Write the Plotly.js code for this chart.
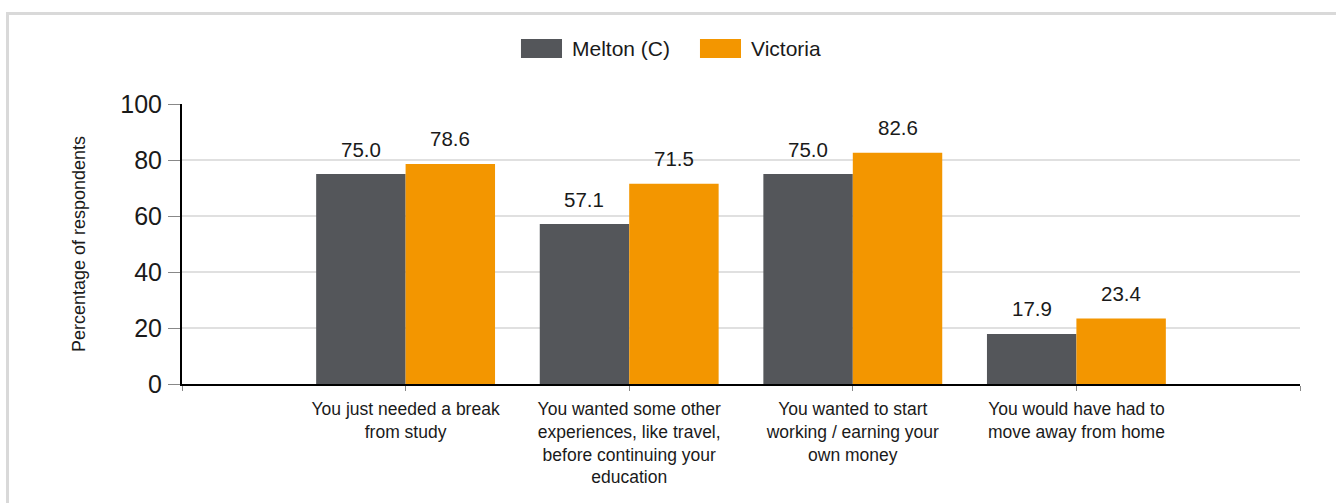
<!DOCTYPE html>
<html>
<head>
<meta charset="utf-8">
<script src="https://cdn.plot.ly/plotly-3.0.1.min.js"></script>
<style>
  html, body { margin: 0; padding: 0; width: 1336px; height: 503px; overflow: hidden; background: #fff; }
  #frame { position: absolute; left: 6px; top: 12px; width: 1400px; height: 600px; border: 3px solid #d9d9d9; box-sizing: border-box; }
  #chart { position: absolute; left: 0; top: 0; width: 1336px; height: 503px; }
</style>
</head>
<body>
<div id="frame"></div>
<div id="chart"></div>
<script>
// ---- data ----
const categories = [
  "You just needed a break<br>from study",
  "You wanted some other<br>experiences, like travel,<br>before continuing your<br>education",
  "You wanted to start<br>working / earning your<br>own money",
  "You would have had to<br>move away from home"
];
const seriesNames = ["Melton (C)", "Victoria"];
const meltonValues = [75.0, 57.1, 75.0, 17.9];
const victoriaValues = [78.6, 71.5, 82.6, 23.4];
const seriesColors = ["#54565a", "#f39600"];
const yTickValues = [0, 20, 40, 60, 80, 100];

// padding categories at both ends of the axis (blank labels, give end ticks)
const axisCategories = [" "].concat(categories, ["  "]);

const seriesValues = [meltonValues, victoriaValues];
const traces = seriesValues.map((vals, s) => ({
  type: "bar",
  name: seriesNames[s],
  x: categories,
  y: vals,
  marker: { color: seriesColors[s], line: { width: 0 } },
  hoverinfo: "skip",
  showlegend: false
}));

const FONT = "Liberation Sans, Arial, sans-serif";

// value labels above bars
const annotations = [];
seriesValues.forEach((vals, s) => {
  vals.forEach((v, i) => {
    annotations.push({
      x: axisCategories.indexOf(categories[i]) + (s === 0 ? -0.2 : 0.2),
      y: v,
      xref: "x", yref: "y",
      text: v.toFixed(1),
      showarrow: false,
      yanchor: "middle",
      yshift: 25,
      font: { family: FONT, size: 20.5, color: "#1a1a1a" }
    });
  });
});

// custom legend (large swatches)
const legendX = [0.3032, 0.4633];
const shapes = [];
seriesNames.forEach((name, s) => {
  shapes.push({
    type: "rect", xref: "paper", yref: "paper",
    x0: legendX[s], x1: legendX[s] + 0.0367,
    y0: 1.1643, y1: 1.2321,
    fillcolor: seriesColors[s], line: { width: 0 }
  });
  annotations.push({
    xref: "paper", yref: "paper",
    x: legendX[s] + 0.0438, y: 1.1982,
    xanchor: "left", yanchor: "middle",
    text: name, showarrow: false,
    font: { family: FONT, size: 21, color: "#1a1a1a" }
  });
});

const layout = {
  width: 1336, height: 503,
  margin: { l: 182, r: 36, t: 104, b: 119, pad: 0 },
  paper_bgcolor: "rgba(0,0,0,0)",
  plot_bgcolor: "rgba(0,0,0,0)",
  barmode: "group",
  bargap: 0.2,
  bargroupgap: 0,
  showlegend: false,
  font: { family: FONT, color: "#1a1a1a" },
  xaxis: {
    type: "category",
    categoryorder: "array",
    categoryarray: axisCategories,
    range: [0, axisCategories.length - 1],
    showline: true, linecolor: "#000", linewidth: 2,
    ticks: "outside", ticklen: 5, tickwidth: 1, tickcolor: "#888",
    showgrid: false, zeroline: false,
    tickfont: { size: 17.5, color: "#1a1a1a" },
    ticklabelstandoff: 3,
    fixedrange: true
  },
  yaxis: {
    range: [0, 100],
    tickmode: "array",
    tickvals: yTickValues,
    ticktext: yTickValues.map(String),
    showline: true, linecolor: "#000", linewidth: 2,
    ticks: "outside", ticklen: 12, tickwidth: 1, tickcolor: "#888",
    showgrid: true, gridcolor: "#e0e0e0", gridwidth: 2,
    zeroline: false,
    tickfont: { size: 25, color: "#1a1a1a" },
    ticklabelstandoff: 1,
    title: { text: "Percentage of respondents", font: { size: 18, color: "#1a1a1a" }, standoff: 30 },
    fixedrange: true
  },
  shapes: shapes,
  annotations: annotations
};

Plotly.newPlot("chart", traces, layout, { displayModeBar: false, staticPlot: true });
</script>
</body>
</html>
